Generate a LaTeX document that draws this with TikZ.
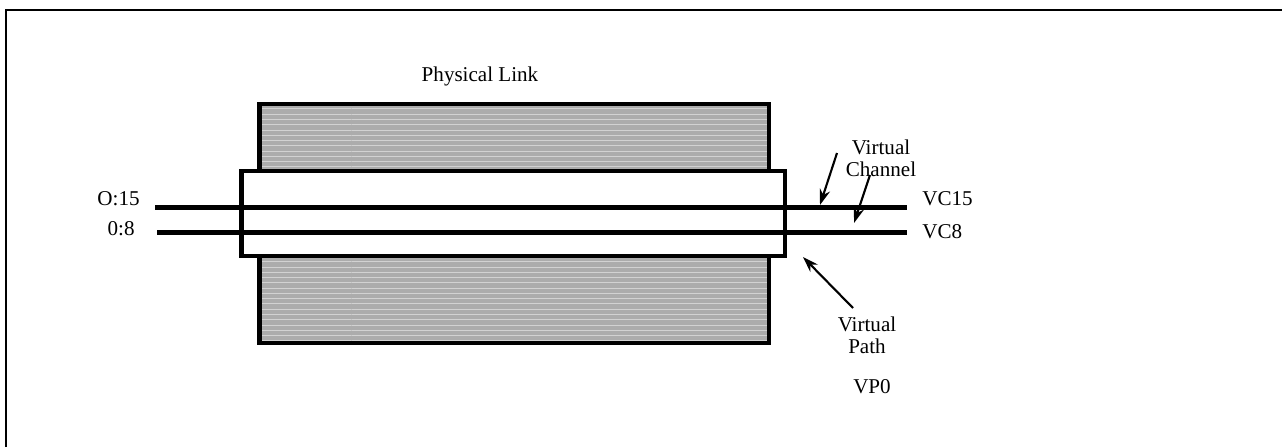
\documentclass[tikz,border=0pt]{standalone}
\usepackage{fontspec}
\setmainfont{Liberation Serif}
\usetikzlibrary{patterns,arrows.meta}

\begin{document}
\begin{tikzpicture}[>={Stealth[length=9pt,width=6pt]}, x=0.02cm, y=-0.02cm,
    lbl/.style={font=\fontsize{12}{12.5}\selectfont, inner sep=0pt, align=center},
    wire/.style={line width=2.7pt},
    arr/.style={->, line width=1.2pt},
    linkbox/.style={line width=2.8pt, preaction={fill=gray!65}, pattern=horizontal lines, pattern color=gray!35},
    pathbox/.style={line width=2.8pt, fill=white}]
    \useasboundingbox (0,0) rectangle (1282,447);
    % frame
    \draw[line width=1.1pt] (6,447) -- (6,10) -- (1282,10);
    % physical link and virtual path
    \node[lbl] (phys) at (480,76) {Physical Link};
    \draw[linkbox] (259.5,104) rectangle (769,343);
    \draw[pathbox] (241.5,171) rectangle (785,256);
    % virtual channels
    \coordinate (w15a) at (155,207.5);
    \coordinate (w15b) at (907,207.5);
    \coordinate (w8a) at (157,232.5);
    \coordinate (w8b) at (907,232.5);
    \node[lbl, anchor=east] (l15) at (140,199) {O:15};
    \node[lbl, anchor=east] (l8) at (135,229) {0:8};
    \node[lbl, anchor=west] (r15) at (922,199) {VC15};
    \node[lbl, anchor=west] (r8) at (922,232) {VC8};
    \foreach \a/\b in {w15a/w15b, w8a/w8b} \draw[wire] (\a) -- (\b);
    % pointers
    \node[lbl] (vc) at (881,158) {Virtual\\Channel};
    \node[lbl] (vp) at (867,335) {Virtual\\Path};
    \node[lbl] (vp0) at (872,387) {VP0};
    \coordinate (c1) at (837,153);
    \coordinate (c2) at (870,175);
    \coordinate (t1) at (820,205);
    \coordinate (t2) at (854,223);
    \coordinate (p1) at (853,308);
    \coordinate (t3) at (803,257);
    \draw[arr] (c1) -- (t1);
    \draw[arr] (c2) -- (t2);
    \draw[arr] (p1) -- (t3);
\end{tikzpicture}
\end{document}
